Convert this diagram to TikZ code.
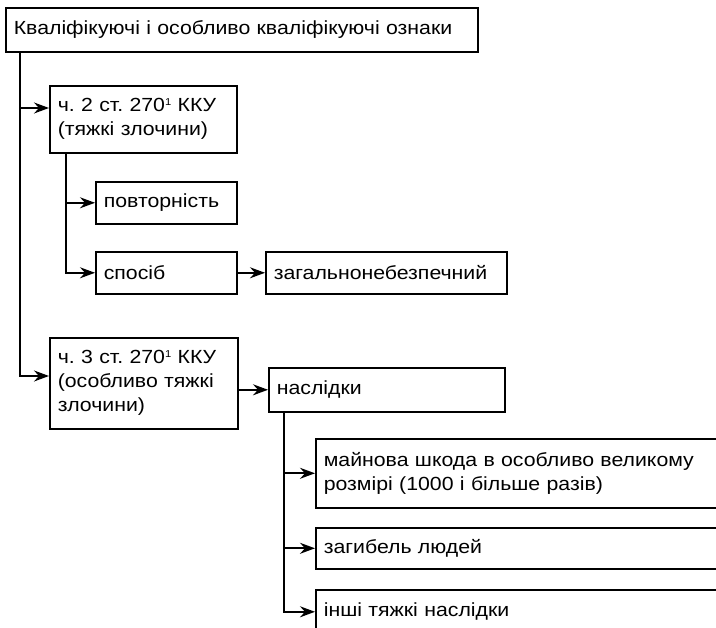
\documentclass[tikz,border=0pt]{standalone}
\usepackage{fontspec}
\setmainfont{Liberation Sans}[FakeStretch=1.12]
\usetikzlibrary{arrows.meta,calc}
\definecolor{ink}{HTML}{000000}
\newcommand\upone{\raisebox{6.4pt}{\fontsize{10}{10}\selectfont 1}}
\tikzset{
  every node/.style={font=\fontsize{19}{24}\selectfont\frenchspacing,text=ink},
  arr/.style={-{Stealth[length=15pt,width=11pt,inset=5pt]},line width=1.6pt,draw=ink},
  box/.style={draw=ink,line width=1.6pt,anchor=north west,align=left,inner xsep=8pt,inner ysep=0pt}
}
\begin{document}
\begin{tikzpicture}[x=1pt,y=-1pt]
  \path[use as bounding box] (0,0) rectangle (716,628);
  \clip (0,0) rectangle (716,628);

  \node[box,text width=456,minimum height=44] (top) at (5,7) {Кваліфікуючі і особливо кваліфікуючі ознаки};

  \node[box,text width=171,minimum height=67] (ch2) at (49,85) {ч. 2 ст. 270\upone{} ККУ\\(тяжкі злочини)};
  \node[box,text width=125,minimum height=42] (povt) at (95,181) {повторність};
  \node[box,text width=125,minimum height=42] (sposib) at (95,251) {спосіб};
  \node[box,text width=225,minimum height=42] (zag) at (265,251) {загальнонебезпечний};

  \node[box,text width=172,minimum height=91] (ch3) at (49,337) {ч. 3 ст. 270\upone{} ККУ\\(особливо тяжкі\\злочини)};
  \node[box,text width=220,minimum height=44] (nasl) at (268,367) {наслідки};
  \node[box,text width=420,minimum height=69] (maino) at (315,438) {майнова шкода в особливо великому\\розмірі (1000 і більше разів)};
  \node[box,text width=420,minimum height=41] (zagib) at (315,527) {загибель людей};
  \node[box,text width=420,minimum height=44] (inshi) at (315,589) {інші тяжкі наслідки};

  % main trunk
  \coordinate (t0) at ($(top.south west)+(15,0)$);
  \draw[arr] (t0) |- ($(ch2.north west)+(0,23)$);
  \draw[arr] (t0) |- ($(ch3.north west)+(0,39)$);

  \coordinate (t1) at ($(ch2.south west)+(17,0)$);
  \draw[arr] (t1) |- (povt.west);
  \draw[arr] (t1) |- (sposib.west);
  \draw[arr] (sposib) -- (zag);

  \draw[arr] (ch3.east |- nasl.west) -- (nasl.west);
  \coordinate (t2) at ($(nasl.south west)+(16,0)$);
  \draw[arr] (t2) |- (maino.west);
  \draw[arr] (t2) |- (zagib.west);
  \draw[arr] (t2) |- (inshi.west);
\end{tikzpicture}
\end{document}
